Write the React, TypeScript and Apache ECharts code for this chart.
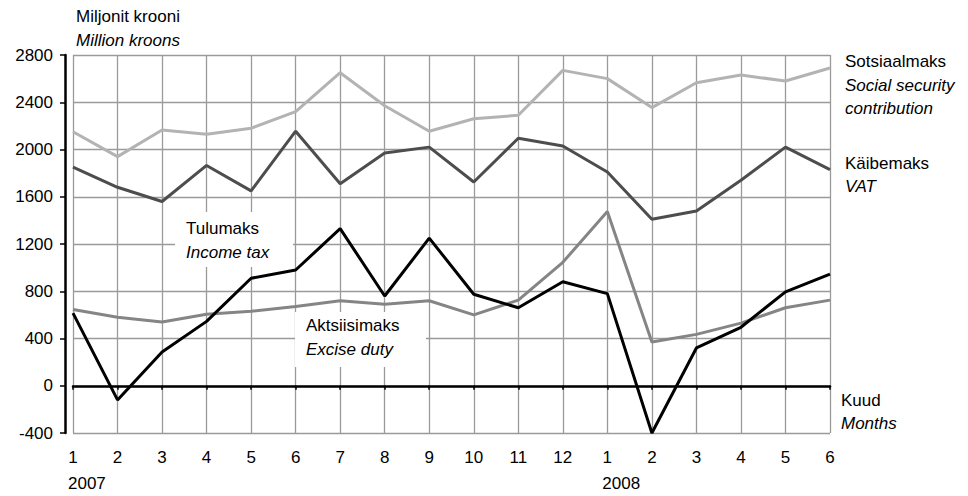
import React, { useEffect, useRef } from "react";
import * as echarts from "echarts";

const months = ["1", "2", "3", "4", "5", "6", "7", "8", "9", "10", "11", "12", "1", "2", "3", "4", "5", "6"];
const yearLabels = [
  { index: 0, text: "2007" },
  { index: 12, text: "2008" },
];
const socialSecurity = [2150, 1940, 2165, 2130, 2180, 2320, 2650, 2370, 2155, 2260, 2290, 2670, 2600, 2355, 2565, 2630, 2580, 2690];
const vat = [1850, 1680, 1560, 1865, 1650, 2155, 1710, 1970, 2020, 1725, 2095, 2030, 1810, 1410, 1480, 1740, 2020, 1830];
const incomeTax = [615, -120, 285, 545, 910, 980, 1330, 760, 1250, 775, 660, 880, 780, -400, 320, 495, 795, 945];
const exciseDuty = [645, 580, 540, 605, 630, 670, 720, 690, 720, 600, 725, 1045, 1475, 370, 435, 530, 660, 725];

const FONT = "'Liberation Sans', Arial, sans-serif";
const FS = 17;

export default function App() {
  const ref = useRef<HTMLDivElement>(null);
  useEffect(() => {
    if (!ref.current) return;
    const chart = echarts.init(ref.current, null, { renderer: "svg" });
    const gridColor = "#9a9a9a";
    const txt = (x: number, y: number, text: string, italic = false, z = 3) => ({
      type: "text",
      x,
      y,
      z,
      style: {
        text,
        fill: "#000",
        font: `${italic ? "italic " : ""}${FS}px ${FONT}`,
        textVerticalAlign: "middle",
        textAlign: "left",
      },
    });
    const option: any = {
      animation: false,
      backgroundColor: "#fff",
      textStyle: { fontFamily: FONT },
      grid: { left: 73, right: 138, top: 55, bottom: 63 },
      xAxis: [
        {
          type: "category",
          data: months,
          boundaryGap: false,
          position: "bottom",
          axisLine: { show: false, onZero: false },
          axisTick: { show: false },
          splitLine: { show: true, lineStyle: { color: gridColor, width: 1.3 } },
          axisLabel: { color: "#000", fontSize: FS, fontFamily: FONT, margin: 16, interval: 0 },
        },
        {
          type: "category",
          data: months,
          boundaryGap: false,
          position: "bottom",
          axisLine: { show: true, onZero: true, onZeroAxisIndex: 0, lineStyle: { color: "#000", width: 2.5 } },
          axisTick: { show: true, length: 4, lineStyle: { color: "#000", width: 1.5 } },
          axisLabel: { show: false },
          splitLine: { show: false },
        },
      ],
      yAxis: {
        type: "value",
        min: -400,
        max: 2800,
        interval: 400,
        offset: 8,
        axisLine: { show: true, onZero: false, lineStyle: { color: "#000", width: 2.5 } },
        axisTick: { show: true, length: 5, lineStyle: { color: "#000", width: 1.5 } },
        splitLine: { show: true, lineStyle: { color: gridColor, width: 1.3 } },
        axisLabel: { color: "#000", fontSize: FS, fontFamily: FONT, margin: 12, formatter: (v: number) => String(v) },
      },
      series: [
        { name: "Sotsiaalmaks", type: "line", data: socialSecurity, symbol: "none", lineStyle: { color: "#b3b3b3", width: 3 }, itemStyle: { color: "#b3b3b3" } },
        { name: "Käibemaks", type: "line", data: vat, symbol: "none", lineStyle: { color: "#4d4d4d", width: 3 }, itemStyle: { color: "#4d4d4d" } },
        { name: "Aktsiisimaks", type: "line", data: exciseDuty, symbol: "none", lineStyle: { color: "#858585", width: 3 }, itemStyle: { color: "#858585" } },
        { name: "Tulumaks", type: "line", data: incomeTax, symbol: "none", lineStyle: { color: "#000", width: 3 }, itemStyle: { color: "#000" } },
      ],
    };
    chart.setOption(option);

    const yearGraphics = yearLabels.map((y) => {
      const px = chart.convertToPixel({ xAxisIndex: 0 }, y.index) as number;
      return txt(px - 5, 483, y.text);
    });

    chart.setOption({
      graphic: [
        txt(76, 16, "Miljonit krooni"),
        txt(76, 40, "Million kroons", true),
        { type: "rect", z: 1, shape: { x: 175, y: 212, width: 118, height: 55 }, style: { fill: "#fff" } },
        txt(186, 228, "Tulumaks"),
        txt(186, 252, "Income tax", true),
        { type: "rect", z: 1, shape: { x: 295, y: 312, width: 131, height: 55 }, style: { fill: "#fff" } },
        txt(306, 325, "Aktsiisimaks"),
        txt(306, 349, "Excise duty", true),
        txt(845, 61, "Sotsiaalmaks"),
        txt(845, 85, "Social security", true),
        txt(845, 108, "contribution", true),
        txt(845, 163, "Käibemaks"),
        txt(845, 186, "VAT", true),
        txt(841, 400, "Kuud"),
        txt(841, 423, "Months", true),
        ...yearGraphics,
      ],
    });
    return () => chart.dispose();
  }, []);
  return <div ref={ref} style={{ width: 968, height: 496, position: "absolute", left: 0, top: 0 }} />;
}
